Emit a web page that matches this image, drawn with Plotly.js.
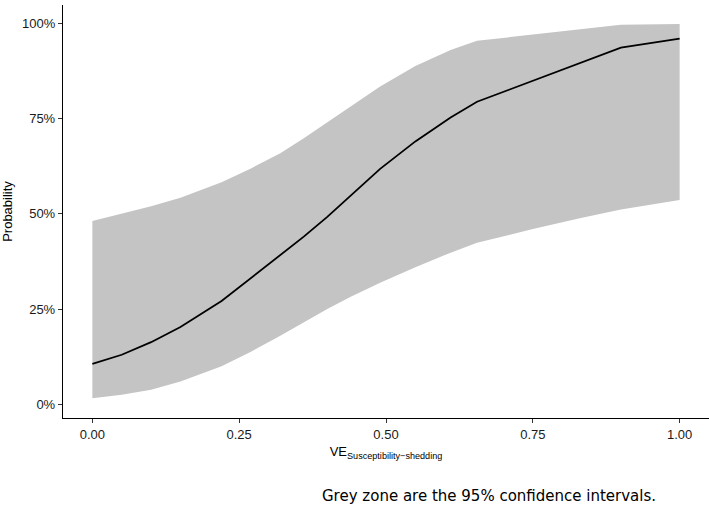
<!DOCTYPE html>
<html>
<head>
<meta charset="utf-8">
<script src="https://cdn.plot.ly/plotly-3.0.1.min.js"></script>
<style>html,body{margin:0;padding:0;background:#fff;}#chart{width:709px;height:509px;}</style>
</head>
<body>
<div id="chart"></div>
<script>
// Data
var ve = [0, 0.05, 0.10, 0.15, 0.22, 0.27, 0.32, 0.36, 0.40, 0.44, 0.49, 0.55, 0.61, 0.655, 0.75, 0.83, 0.90, 1.00];
var probability = [0.106, 0.130, 0.163, 0.203, 0.271, 0.331, 0.392, 0.440, 0.492, 0.547, 0.618, 0.690, 0.753, 0.794, 0.849, 0.895, 0.936, 0.960];
var upper95 = [0.481, 0.500, 0.520, 0.542, 0.583, 0.619, 0.659, 0.698, 0.740, 0.782, 0.834, 0.888, 0.930, 0.954, 0.970, 0.985, 0.996, 0.998];
var lower95 = [0.016, 0.025, 0.038, 0.060, 0.100, 0.138, 0.180, 0.215, 0.250, 0.282, 0.319, 0.360, 0.398, 0.424, 0.460, 0.488, 0.511, 0.536];
var yTicks = [0, 0.25, 0.5, 0.75, 1];
var xTicks = [0, 0.25, 0.5, 0.75, 1];
var captionText = "Grey zone are the 95% confidence intervals.";

var traces = [
  {x: ve, y: lower95, mode: 'lines', line: {width: 0, color: 'rgba(0,0,0,0)'}, hoverinfo: 'skip', showlegend: false},
  {x: ve, y: upper95, mode: 'lines', fill: 'tonexty', fillcolor: '#c4c4c4', line: {width: 0, color: 'rgba(0,0,0,0)'}, hoverinfo: 'skip', showlegend: false},
  {x: ve, y: probability, mode: 'lines', line: {color: '#000000', width: 1.8}, showlegend: false}
];

var layout = {
  width: 709, height: 509,
  margin: {l: 63, r: 0, t: 5, b: 91},
  paper_bgcolor: '#ffffff', plot_bgcolor: '#ffffff',
  font: {family: 'Liberation Sans, Arial, sans-serif', size: 13, color: '#222222'},
  xaxis: {
    range: [-0.05, 1.05], tickvals: xTicks, tickformat: '.2f',
    showgrid: false, zeroline: false, showline: true, linecolor: '#000000', linewidth: 1.2,
    ticks: 'outside', ticklen: 4, tickcolor: '#333333', tickwidth: 1,
    tickfont: {size: 13, color: '#1a1a1a'},
    title: {text: 'VE<sub>Susceptibility\u2212shedding</sub>', font: {size: 13, color: '#000000'}, standoff: 6}
  },
  yaxis: {
    range: [-0.036, 1.048], tickvals: yTicks, tickformat: '.0%',
    showgrid: false, zeroline: false, showline: true, linecolor: '#000000', linewidth: 1.2,
    ticks: 'outside', ticklen: 4, tickcolor: '#333333', tickwidth: 1,
    tickfont: {size: 13, color: '#1a1a1a'},
    title: {text: 'Probability', font: {size: 13, color: '#000000'}, standoff: 8}
  },
  annotations: [{
    text: captionText, xref: 'paper', yref: 'paper', x: 0.66, y: -0.189,
    xanchor: 'center', yanchor: 'middle', showarrow: false,
    font: {family: 'DejaVu Sans, Verdana, sans-serif', size: 15, color: '#000000'}
  }]
};

Plotly.newPlot('chart', traces, layout, {staticPlot: true, displayModeBar: false});
</script>
</body>
</html>
